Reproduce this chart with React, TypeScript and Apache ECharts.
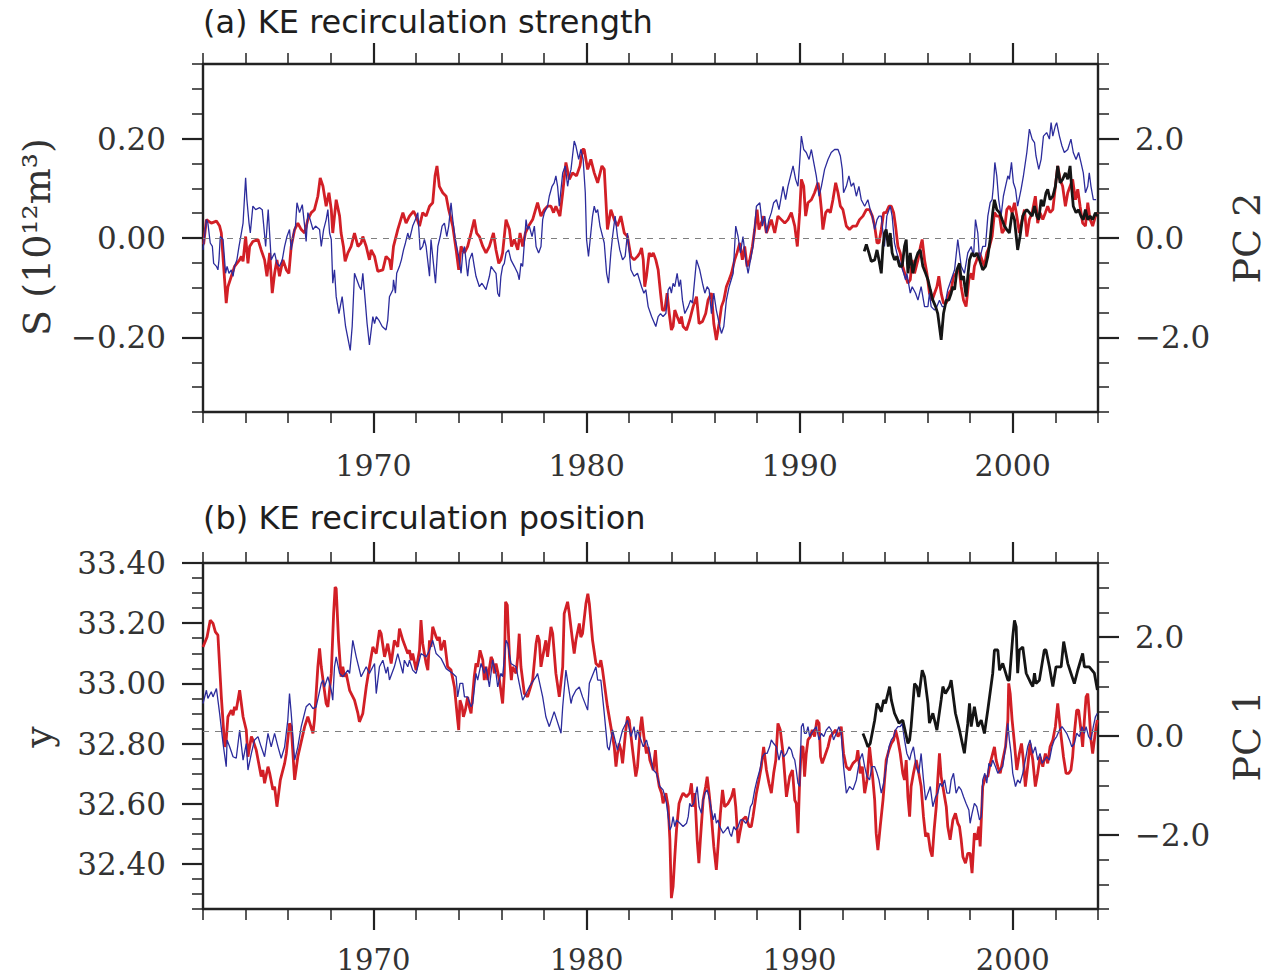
import React, { useEffect, useRef } from "react";
import * as echarts from "echarts";

// ---------- tick values ----------
const X_MAJOR = [1970, 1980, 1990, 2000];
const X_MINOR = [1962, 1964, 1966, 1968, 1970, 1972, 1974, 1976, 1978, 1980, 1982, 1984, 1986, 1988, 1990, 1992, 1994, 1996, 1998, 2000, 2002, 2004];
const S_MAJOR = [-0.2, 0, 0.2];
const S_MINOR = [-0.35, -0.3, -0.25, -0.2, -0.15, -0.1, -0.05, 0, 0.05, 0.1, 0.15, 0.2, 0.25, 0.3, 0.35];
const PC_MAJOR = [-2, 0, 2];
const PC_MINOR = [-3.5, -3, -2.5, -2, -1.5, -1, -0.5, 0, 0.5, 1, 1.5, 2, 2.5, 3, 3.5];
const Y_MAJOR = [32.4, 32.6, 32.8, 33.0, 33.2, 33.4];
const Y_MINOR = [32.25, 32.3, 32.35, 32.4, 32.45, 32.5, 32.55, 32.6, 32.65, 32.7, 32.75, 32.8, 32.85, 32.9, 32.95, 33.0, 33.05, 33.1, 33.15, 33.2, 33.25, 33.3, 33.35, 33.4];

// ---------- panel (a): recirculation strength S (1e12 m^3) ----------
const redA: number[][] = [
  [1962.03,-0.013],[1962.16,0.037],[1962.39,0.030],[1962.63,0.034],[1962.78,0.024],[1962.86,0.010],[1963.09,-0.131],[1963.17,-0.098],[1963.33,-0.077],[1963.48,-0.057],[1963.72,-0.044],[1963.80,-0.037],[1963.88,-0.047],[1964.00,0.003],[1964.11,-0.051],[1964.19,-0.017],[1964.34,-0.007],[1964.58,-0.003],[1964.73,-0.024],[1964.89,-0.044],[1965.00,-0.077],[1965.13,-0.030],[1965.25,-0.111],[1965.36,-0.071],[1965.47,-0.044],[1965.59,-0.077],[1965.75,-0.044],[1965.91,-0.064],[1966.03,-0.071],[1966.14,-0.017],[1966.30,0.017],[1966.45,0.030],[1966.61,0.017],[1966.77,0.010],[1966.92,0.037],[1967.08,0.051],[1967.23,0.057],[1967.39,0.084],[1967.50,0.121],[1967.63,0.104],[1967.78,0.064],[1967.91,0.091],[1968.02,0.057],[1968.09,0.010],[1968.25,0.077],[1968.41,0.044],[1968.48,0.010],[1968.59,-0.017],[1968.67,-0.047],[1968.80,-0.030],[1968.95,-0.017],[1969.11,0.010],[1969.27,-0.017],[1969.42,-0.010],[1969.50,0.003],[1969.66,-0.017],[1969.81,-0.044],[1969.89,-0.024],[1970.05,-0.037],[1970.20,-0.067],[1970.44,-0.064],[1970.59,-0.037],[1970.75,-0.044],[1970.83,-0.064],[1970.94,-0.017],[1971.14,0.017],[1971.38,0.051],[1971.53,0.030],[1971.69,0.044],[1971.88,0.054],[1972.00,0.044],[1972.16,0.024],[1972.31,0.051],[1972.47,0.044],[1972.63,0.064],[1972.78,0.071],[1972.89,0.125],[1972.98,0.145],[1973.09,0.104],[1973.25,0.091],[1973.41,0.084],[1973.53,0.057],[1973.72,0.024],[1973.88,-0.024],[1974.00,-0.064],[1974.11,-0.017],[1974.27,-0.030],[1974.42,-0.017],[1974.58,0.010],[1974.73,0.037],[1974.84,0.010],[1974.97,0.003],[1975.13,-0.017],[1975.28,-0.030],[1975.44,-0.017],[1975.63,0.010],[1975.75,-0.024],[1975.88,-0.051],[1975.98,-0.044],[1976.06,-0.030],[1976.22,0.037],[1976.38,0.017],[1976.48,-0.017],[1976.61,-0.003],[1976.77,-0.024],[1976.88,0.010],[1977.00,-0.017],[1977.13,0.010],[1977.28,0.024],[1977.47,0.037],[1977.70,0.071],[1977.86,0.044],[1978.02,0.057],[1978.17,0.064],[1978.33,0.064],[1978.45,0.051],[1978.56,0.064],[1978.75,0.044],[1978.88,0.091],[1979.03,0.152],[1979.19,0.118],[1979.34,0.131],[1979.53,0.125],[1979.69,0.145],[1979.81,0.178],[1979.89,0.178],[1980.05,0.138],[1980.20,0.158],[1980.36,0.131],[1980.52,0.111],[1980.72,0.145],[1980.83,0.138],[1980.98,0.017],[1981.14,0.057],[1981.30,0.037],[1981.45,0.024],[1981.61,0.044],[1981.77,0.010],[1981.92,0.003],[1982.08,-0.037],[1982.23,-0.044],[1982.39,-0.037],
  [1982.50,-0.030],[1982.58,-0.020],[1982.66,-0.044],[1982.73,-0.098],[1982.81,-0.077],[1982.94,-0.030],[1983.05,-0.037],[1983.13,-0.030],[1983.25,-0.044],[1983.36,-0.064],[1983.47,-0.111],[1983.56,-0.145],[1983.67,-0.145],[1983.78,-0.111],[1983.88,-0.152],[1983.98,-0.185],[1984.06,-0.178],[1984.14,-0.145],[1984.25,-0.158],[1984.38,-0.172],[1984.45,-0.158],[1984.53,-0.178],[1984.69,-0.185],[1984.84,-0.165],[1985.00,-0.138],[1985.16,-0.118],[1985.28,-0.172],[1985.44,-0.168],[1985.59,-0.152],[1985.70,-0.125],[1985.86,-0.111],[1985.97,-0.172],[1986.09,-0.205],[1986.22,-0.172],[1986.33,-0.138],[1986.44,-0.125],[1986.56,-0.098],[1986.69,-0.084],[1986.80,-0.071],[1986.95,-0.044],[1987.06,-0.030],[1987.19,-0.010],[1987.31,-0.044],[1987.42,-0.017],[1987.53,-0.057],[1987.66,-0.044],[1987.78,-0.017],[1987.89,0.017],[1988.00,0.057],[1988.09,0.017],[1988.20,0.030],[1988.31,0.044],[1988.44,0.010],[1988.56,0.024],[1988.67,0.037],[1988.83,0.010],[1988.98,0.044],[1989.14,0.037],[1989.30,0.030],[1989.45,0.037],[1989.61,0.051],[1989.77,0.024],[1989.89,-0.017],[1990.00,0.051],[1990.08,0.118],[1990.19,0.104],[1990.28,0.044],[1990.39,0.071],[1990.55,0.077],[1990.70,0.091],[1990.86,0.111],[1990.94,0.091],[1991.02,0.057],[1991.09,0.017],[1991.22,0.051],[1991.33,0.057],[1991.44,0.051],[1991.56,0.077],[1991.69,0.111],[1991.80,0.091],[1991.91,0.064],[1992.03,0.057],[1992.19,0.024],[1992.34,0.017],[1992.50,0.024],[1992.66,0.024],[1992.81,0.037],[1992.97,0.044],[1993.13,0.057],[1993.28,0.057],[1993.41,0.044],[1993.52,0.024],[1993.63,-0.010],[1993.72,-0.010],[1993.83,0.017],[1993.94,0.051],[1994.06,0.051],[1994.19,0.064],[1994.30,0.064],[1994.41,0.051],[1994.50,0.024],[1994.61,-0.017],[1994.72,-0.030],[1994.84,-0.057],[1994.97,-0.077],[1995.08,-0.091],[1995.19,-0.084],[1995.28,-0.044],[1995.39,-0.071],[1995.55,-0.044],[1995.67,-0.017],[1995.75,-0.003],[1995.86,-0.044],[1995.97,-0.071],[1996.09,-0.111],[1996.22,-0.125],[1996.33,-0.111],[1996.44,-0.098],[1996.53,-0.077],[1996.64,-0.111],[1996.75,-0.131],[1996.88,-0.131],[1997.00,-0.111],[1997.11,-0.104],[1997.22,-0.077],[1997.34,-0.071],[1997.47,-0.057],[1997.58,-0.098],[1997.69,-0.125],[1997.81,-0.138],[1997.94,-0.084],[1998.05,-0.071],[1998.13,-0.084],[1998.20,-0.057],[1998.31,-0.044],[1998.44,-0.030],[1998.56,-0.044],[1998.67,-0.057],[1998.78,-0.030],[1998.91,-0.017],[1999.03,0.003],[1999.14,0.051],[1999.25,0.044],[1999.38,0.044],[1999.50,0.010],[1999.61,0.017],[1999.72,0.057],[1999.84,0.064],[1999.97,0.051],[2000.08,0.071],[2000.19,0.044],[2000.31,0.010],[2000.44,0.037],[2000.55,0.057],[2000.66,0.003],[2000.78,0.037],[2000.91,0.051],[2001.06,0.084],[2001.17,0.030],[2001.28,0.051],[2001.41,0.037],[2001.53,0.051],[2001.64,0.064],[2001.75,0.051],[2001.88,0.057],[2002.00,0.104],[2002.11,0.145],[2002.22,0.118],[2002.34,0.104],[2002.47,0.064],[2002.58,0.091],[2002.69,0.104],[2002.81,0.118],[2002.94,0.077],[2003.05,0.098],[2003.16,0.064],[2003.28,0.030],[2003.41,0.024],[2003.52,0.071],[2003.63,0.037],[2003.75,0.024],[2003.88,0.044],[2003.97,0.051]
];

const blueA: number[][] = [
  [1962.00,-0.024],[1962.16,0.037],[1962.23,0.030],[1962.34,-0.010],[1962.44,-0.017],[1962.50,-0.051],[1962.63,-0.057],[1962.70,-0.064],[1962.75,-0.044],[1962.81,0.003],[1962.94,-0.003],[1963.06,-0.071],[1963.13,-0.057],[1963.22,-0.071],[1963.33,-0.064],[1963.41,-0.077],[1963.48,-0.057],[1963.59,-0.044],[1963.69,-0.017],[1963.80,0.010],[1963.88,0.030],[1964.00,0.121],[1964.06,0.077],[1964.16,0.030],[1964.22,0.010],[1964.34,0.064],[1964.47,0.057],[1964.66,0.061],[1964.78,0.057],[1964.94,-0.017],[1965.06,0.057],[1965.20,-0.044],[1965.36,-0.030],[1965.47,-0.051],[1965.59,-0.057],[1965.72,-0.044],[1965.83,-0.017],[1965.94,0.003],[1966.06,0.017],[1966.14,-0.024],[1966.25,0.010],[1966.34,0.024],[1966.41,0.071],[1966.53,0.051],[1966.66,0.067],[1966.77,0.024],[1966.84,-0.007],[1966.92,0.051],[1967.03,0.037],[1967.16,0.017],[1967.28,0.024],[1967.47,0.017],[1967.55,-0.017],[1967.66,0.017],[1967.78,0.037],[1967.86,0.057],[1967.94,0.010],[1968.02,-0.003],[1968.09,-0.091],[1968.17,-0.064],[1968.25,-0.118],[1968.38,-0.152],[1968.53,-0.118],[1968.69,-0.178],[1968.91,-0.226],[1969.00,-0.178],[1969.11,-0.071],[1969.22,-0.084],[1969.34,-0.098],[1969.42,-0.104],[1969.50,-0.071],[1969.61,-0.125],[1969.70,-0.172],[1969.81,-0.215],[1969.97,-0.158],[1970.05,-0.172],[1970.13,-0.158],[1970.25,-0.165],[1970.41,-0.178],[1970.59,-0.185],[1970.67,-0.165],[1970.75,-0.118],[1970.91,-0.104],[1970.94,-0.084],[1971.03,-0.111],[1971.09,-0.071],[1971.22,-0.057],[1971.31,-0.044],[1971.41,-0.024],[1971.50,-0.010],[1971.61,0.010],[1971.69,-0.003],[1971.84,0.024],[1971.97,0.037],[1972.08,0.051],[1972.13,0.017],[1972.19,-0.024],[1972.31,-0.017],[1972.39,-0.003],[1972.47,-0.017],[1972.63,-0.077],[1972.70,-0.003],[1972.78,-0.037],[1972.91,-0.091],[1973.02,-0.017],[1973.13,0.003],[1973.22,0.024],[1973.33,0.030],[1973.44,0.003],[1973.53,0.024],[1973.64,0.071],[1973.72,0.037],[1973.84,-0.003],[1974.00,-0.037],[1974.11,-0.071],[1974.19,-0.030],[1974.27,-0.017],[1974.42,-0.077],[1974.50,-0.044],[1974.63,-0.030],[1974.73,-0.057],[1974.81,-0.077],[1974.97,-0.098],[1975.09,-0.091],[1975.28,-0.104],[1975.44,-0.077],[1975.52,-0.057],[1975.63,-0.064],[1975.75,-0.071],[1975.83,-0.111],[1975.91,-0.118],[1975.98,-0.077],[1976.06,-0.057],[1976.14,-0.051],[1976.22,-0.030],[1976.34,-0.024],[1976.45,-0.044],[1976.61,-0.057],[1976.77,-0.071],[1976.84,-0.084],[1976.92,-0.051],[1977.00,-0.057],[1977.08,-0.010],[1977.16,0.037],[1977.23,0.017],[1977.31,0.024],[1977.44,0.003],[1977.55,0.024],[1977.63,-0.017],[1977.75,-0.030],[1977.86,-0.017],[1977.94,0.037],[1978.02,0.051],[1978.09,0.057],[1978.17,0.064],[1978.25,0.084],[1978.38,0.104],[1978.48,0.111],[1978.56,0.125],[1978.64,0.104],[1978.72,0.064],[1978.88,0.131],[1979.00,0.145],[1979.11,0.104],[1979.19,0.125],[1979.27,0.138],[1979.34,0.165],[1979.42,0.195],[1979.50,0.185],[1979.63,0.158],[1979.73,0.178],[1979.84,0.158],[1979.94,0.091],[1980.00,-0.003],[1980.09,-0.037],[1980.20,0.010],[1980.28,0.044],[1980.36,0.064],[1980.44,0.051],[1980.52,0.057],[1980.63,0.024],[1980.83,-0.010],[1980.94,-0.071],[1981.03,-0.091],[1981.14,-0.030],[1981.22,0.003],[1981.34,0.044],[1981.45,0.003],[1981.56,-0.024],[1981.69,-0.044],[1981.81,-0.037],[1981.92,0.010],[1982.08,-0.064],[1982.23,-0.077],[1982.39,-0.071],
  [1982.58,-0.098],[1982.69,-0.111],[1982.78,-0.104],[1982.89,-0.138],[1983.05,-0.158],[1983.25,-0.178],[1983.36,-0.158],[1983.47,-0.152],[1983.59,-0.158],[1983.72,-0.152],[1983.83,-0.104],[1983.91,-0.098],[1983.98,-0.111],[1984.06,-0.091],[1984.14,-0.098],[1984.25,-0.071],[1984.34,-0.098],[1984.41,-0.084],[1984.50,-0.125],[1984.61,-0.152],[1984.77,-0.138],[1984.88,-0.125],[1984.97,-0.131],[1985.16,-0.044],[1985.31,-0.064],[1985.44,-0.091],[1985.55,-0.111],[1985.66,-0.098],[1985.75,-0.104],[1985.86,-0.152],[1985.97,-0.111],[1986.09,-0.145],[1986.25,-0.178],[1986.33,-0.192],[1986.44,-0.178],[1986.56,-0.125],[1986.69,-0.098],[1986.88,-0.071],[1987.00,0.024],[1987.11,0.003],[1987.22,-0.030],[1987.34,0.003],[1987.47,-0.044],[1987.58,-0.071],[1987.69,-0.044],[1987.81,-0.017],[1987.97,0.064],[1988.13,0.071],[1988.25,0.024],[1988.36,0.044],[1988.44,0.010],[1988.56,0.037],[1988.67,0.051],[1988.78,0.071],[1988.91,0.077],[1989.03,0.057],[1989.22,0.104],[1989.34,0.077],[1989.45,0.104],[1989.69,0.145],[1989.81,0.118],[1989.92,0.104],[1990.00,0.152],[1990.08,0.205],[1990.19,0.178],[1990.31,0.172],[1990.44,0.158],[1990.55,0.178],[1990.66,0.152],[1990.78,0.125],[1990.91,0.084],[1991.02,0.104],[1991.17,0.138],[1991.33,0.158],[1991.48,0.172],[1991.64,0.178],[1991.80,0.178],[1991.91,0.165],[1992.00,0.138],[1992.06,0.091],[1992.19,0.104],[1992.31,0.125],[1992.42,0.104],[1992.53,0.111],[1992.66,0.084],[1992.78,0.104],[1992.89,0.077],[1993.05,0.064],[1993.20,0.077],[1993.31,0.057],[1993.41,0.044],[1993.52,0.017],[1993.63,0.037],[1993.72,0.044],[1993.83,0.044],[1993.91,0.010],[1993.98,-0.017],[1994.09,0.044],[1994.25,0.064],[1994.34,0.044],[1994.45,-0.010],[1994.56,-0.030],[1994.66,-0.044],[1994.77,-0.057],[1994.88,-0.071],[1994.97,-0.084],[1995.03,-0.071],[1995.19,-0.111],[1995.28,-0.098],[1995.44,-0.111],[1995.55,-0.125],[1995.70,-0.098],[1995.86,-0.138],[1996.02,-0.138],[1996.09,-0.111],[1996.17,-0.138],[1996.33,-0.145],[1996.44,-0.138],[1996.56,-0.125],[1996.69,-0.138],[1996.80,-0.138],[1996.95,-0.104],[1997.11,-0.084],[1997.27,-0.064],[1997.42,-0.003],[1997.58,-0.057],[1997.73,-0.071],[1997.89,-0.030],[1998.05,-0.017],[1998.16,-0.037],[1998.25,0.037],[1998.36,0.010],[1998.44,-0.044],[1998.59,-0.017],[1998.72,-0.017],[1998.83,0.044],[1998.94,0.071],[1999.03,0.077],[1999.09,0.104],[1999.16,0.152],[1999.25,0.125],[1999.34,0.077],[1999.45,0.044],[1999.56,0.084],[1999.66,0.104],[1999.77,0.125],[1999.84,0.118],[1999.94,0.152],[2000.03,0.111],[2000.13,0.098],[2000.23,0.064],[2000.39,0.098],[2000.50,0.125],[2000.66,0.172],[2000.78,0.219],[2000.91,0.199],[2001.02,0.192],[2001.09,0.165],[2001.22,0.138],[2001.33,0.158],[2001.44,0.205],[2001.59,0.212],[2001.72,0.199],[2001.80,0.232],[2001.88,0.205],[2002.00,0.226],[2002.06,0.232],[2002.19,0.205],[2002.31,0.185],[2002.42,0.172],[2002.58,0.178],[2002.73,0.199],[2002.84,0.172],[2002.97,0.158],[2003.09,0.172],[2003.20,0.152],[2003.31,0.131],[2003.41,0.091],[2003.52,0.104],[2003.59,0.131],[2003.67,0.104],[2003.78,0.077],[2003.91,0.077]
];

// black: PC 2 (right axis)
const blackA: number[][] = [
  [1993.03,-0.27],[1993.13,-0.13],[1993.25,-0.30],[1993.36,-0.47],[1993.52,-0.44],[1993.63,-0.24],[1993.72,-0.44],[1993.83,-0.71],[1993.91,-0.17],[1993.98,0.10],[1994.06,0.17],[1994.16,-0.17],[1994.25,0.10],[1994.34,-0.30],[1994.45,-0.44],[1994.56,-0.37],[1994.69,-0.57],[1994.81,-0.57],[1994.92,-0.17],[1995.00,-0.03],[1995.08,-0.71],[1995.19,-0.30],[1995.31,-0.71],[1995.44,-0.44],[1995.55,-0.30],[1995.66,-0.24],[1995.78,-0.57],[1995.91,-0.71],[1996.02,-0.84],[1996.13,-1.04],[1996.25,-1.25],[1996.38,-1.38],[1996.48,-1.52],[1996.64,-2.05],[1996.75,-1.52],[1996.88,-1.25],[1997.00,-1.25],[1997.11,-1.11],[1997.19,-0.98],[1997.27,-1.04],[1997.38,-0.64],[1997.50,-0.51],[1997.58,-0.84],[1997.69,-0.77],[1997.81,-1.18],[1997.89,-0.77],[1997.97,-0.44],[1998.09,-0.30],[1998.20,-0.37],[1998.31,-0.30],[1998.44,-0.44],[1998.59,-0.64],[1998.72,-0.57],[1998.83,-0.37],[1998.94,-0.03],[1999.06,0.51],[1999.14,0.77],[1999.25,0.57],[1999.38,0.51],[1999.50,0.37],[1999.61,0.24],[1999.72,0.17],[1999.84,0.10],[1999.97,0.51],[2000.08,0.37],[2000.23,-0.24],[2000.34,0.03],[2000.47,0.44],[2000.55,0.51],[2000.66,0.57],[2000.78,0.51],[2000.91,0.44],[2001.02,0.64],[2001.13,0.44],[2001.22,0.37],[2001.33,0.77],[2001.44,0.64],[2001.56,0.91],[2001.64,0.98],[2001.75,0.77],[2001.88,0.84],[2002.00,1.04],[2002.11,1.45],[2002.22,1.11],[2002.34,1.18],[2002.47,1.31],[2002.58,1.18],[2002.69,1.45],[2002.77,0.98],[2002.84,0.64],[2002.97,0.51],[2003.09,0.57],[2003.20,0.44],[2003.31,0.37],[2003.41,0.57],[2003.52,0.37],[2003.63,0.44],[2003.75,0.37],[2003.88,0.51],[2003.97,0.44]
];

// ---------- panel (b): recirculation position y (deg N) ----------
const redB: number[][] = [
  [1962.00,33.121],[1962.19,33.154],[1962.34,33.210],[1962.47,33.199],[1962.58,33.171],[1962.70,33.160],[1962.86,32.955],[1963.02,32.789],[1963.09,32.812],[1963.17,32.889],[1963.33,32.911],[1963.41,32.894],[1963.48,32.922],[1963.56,32.911],[1963.72,32.977],[1963.88,32.889],[1964.03,32.845],[1964.11,32.756],[1964.27,32.823],[1964.34,32.812],[1964.50,32.778],[1964.73,32.690],[1964.81,32.712],[1964.89,32.668],[1965.05,32.723],[1965.13,32.701],[1965.28,32.646],[1965.36,32.657],[1965.47,32.590],[1965.63,32.679],[1965.83,32.734],[1965.91,32.767],[1966.06,32.867],[1966.14,32.856],[1966.30,32.679],[1966.45,32.756],[1966.77,32.856],[1966.92,32.889],[1967.16,32.834],[1967.23,32.878],[1967.39,33.055],[1967.47,33.116],[1967.55,33.055],[1967.78,32.933],[1967.86,32.922],[1968.02,33.033],[1968.13,33.232],[1968.20,33.320],[1968.25,33.315],[1968.36,33.143],[1968.48,33.022],[1968.56,33.055],[1968.64,33.022],[1968.72,33.033],[1968.88,32.977],[1969.11,32.944],[1969.27,32.900],[1969.34,32.872],[1969.50,32.900],[1969.66,32.988],[1969.81,33.055],[1969.97,33.121],[1970.13,33.099],[1970.28,33.177],[1970.36,33.165],[1970.52,33.088],[1970.67,33.132],[1970.83,33.066],[1970.98,33.143],[1971.14,33.121],[1971.22,33.182],[1971.38,33.143],[1971.61,33.099],[1971.69,33.110],[1971.77,33.077],[1971.84,33.099],[1972.00,33.044],[1972.16,33.110],[1972.23,33.210],[1972.31,33.132],[1972.47,33.066],[1972.55,33.044],[1972.63,33.143],[1972.70,33.121],[1972.78,33.188],[1972.94,33.154],[1973.02,33.143],[1973.09,33.154],[1973.17,33.110],[1973.33,33.143],[1973.48,33.055],[1973.64,33.044],[1973.80,32.988],[1973.95,32.878],[1974.00,32.845],[1974.06,32.944],[1974.16,32.922],[1974.22,32.889],[1974.31,32.911],[1974.42,32.955],[1974.50,32.922],[1974.58,32.900],[1974.73,33.022],[1974.81,33.066],[1974.89,33.055],[1975.00,33.110],[1975.13,33.077],[1975.20,33.011],[1975.28,33.055],[1975.36,33.011],[1975.52,33.088],[1975.59,33.077],[1975.67,33.033],[1975.75,33.066],[1975.91,33.011],[1976.06,32.933],[1976.14,33.033],[1976.20,33.271],[1976.28,33.260],[1976.38,33.088],[1976.47,33.011],[1976.53,33.055],[1976.69,33.033],[1976.77,33.088],[1976.84,33.165],[1976.92,33.055],[1977.08,32.966],[1977.23,32.955],[1977.47,33.011],[1977.63,33.132],[1977.70,33.160],[1977.78,33.143],[1977.86,33.055],[1977.94,33.088],[1978.09,33.143],[1978.17,33.088],[1978.33,33.188],[1978.41,33.165],[1978.56,33.033],[1978.72,32.955],[1978.88,33.055],[1978.95,33.232],[1979.11,33.271],[1979.19,33.232],[1979.34,33.143],[1979.42,33.099],[1979.50,33.143],[1979.66,33.199],[1979.73,33.154],[1979.81,33.165],[1979.97,33.265],[1980.06,33.298],[1980.13,33.265],[1980.28,33.143],[1980.44,33.066],[1980.59,33.055],[1980.67,33.077],[1980.75,33.044],[1980.98,32.922],[1981.14,32.856],[1981.30,32.789],[1981.38,32.723],[1981.45,32.767],[1981.53,32.800],[1981.61,32.778],[1981.69,32.734],[1981.84,32.845],[1981.92,32.889],[1982.00,32.878],[1982.16,32.778],[1982.31,32.690],[1982.39,32.723],
  [1982.53,32.856],[1982.59,32.889],[1982.69,32.823],[1982.81,32.767],[1982.89,32.789],[1982.97,32.745],[1983.13,32.712],[1983.23,32.778],[1983.31,32.701],[1983.41,32.657],[1983.52,32.635],[1983.59,32.601],[1983.72,32.635],[1983.83,32.590],[1983.91,32.480],[1983.98,32.286],[1984.06,32.325],[1984.14,32.424],[1984.22,32.513],[1984.34,32.601],[1984.45,32.623],[1984.53,32.635],[1984.69,32.623],[1984.84,32.635],[1984.92,32.668],[1985.00,32.590],[1985.08,32.635],[1985.19,32.480],[1985.27,32.402],[1985.34,32.480],[1985.47,32.612],[1985.59,32.657],[1985.66,32.690],[1985.75,32.635],[1985.86,32.557],[1985.97,32.458],[1986.09,32.380],[1986.19,32.480],[1986.28,32.568],[1986.38,32.646],[1986.48,32.590],[1986.64,32.601],[1986.80,32.623],[1986.91,32.651],[1987.00,32.590],[1987.11,32.469],[1987.19,32.502],[1987.31,32.546],[1987.47,32.557],[1987.63,32.524],[1987.73,32.524],[1987.81,32.557],[1987.97,32.635],[1988.09,32.679],[1988.20,32.723],[1988.31,32.789],[1988.44,32.712],[1988.56,32.668],[1988.67,32.635],[1988.78,32.701],[1988.88,32.745],[1988.98,32.867],[1989.09,32.845],[1989.22,32.767],[1989.38,32.623],[1989.53,32.690],[1989.66,32.712],[1989.77,32.612],[1989.84,32.601],[1989.92,32.502],[1990.00,32.679],[1990.08,32.789],[1990.16,32.789],[1990.23,32.690],[1990.31,32.767],[1990.39,32.812],[1990.50,32.823],[1990.59,32.845],[1990.70,32.823],[1990.81,32.878],[1990.91,32.867],[1990.98,32.756],[1991.06,32.734],[1991.17,32.756],[1991.33,32.789],[1991.44,32.823],[1991.56,32.834],[1991.69,32.845],[1991.80,32.823],[1991.88,32.834],[1991.95,32.856],[1992.06,32.767],[1992.19,32.723],[1992.34,32.712],[1992.50,32.734],[1992.66,32.745],[1992.73,32.778],[1992.84,32.701],[1992.94,32.723],[1993.05,32.635],[1993.16,32.679],[1993.28,32.789],[1993.41,32.701],[1993.52,32.612],[1993.59,32.502],[1993.67,32.446],[1993.78,32.524],[1993.91,32.612],[1994.06,32.745],[1994.19,32.778],[1994.30,32.800],[1994.41,32.812],[1994.50,32.845],[1994.61,32.812],[1994.72,32.767],[1994.84,32.701],[1994.92,32.679],[1995.00,32.745],[1995.08,32.623],[1995.16,32.557],[1995.23,32.657],[1995.34,32.701],[1995.47,32.745],[1995.59,32.701],[1995.70,32.657],[1995.81,32.557],[1995.91,32.491],[1996.02,32.502],[1996.13,32.446],[1996.22,32.424],[1996.31,32.513],[1996.41,32.590],[1996.48,32.679],[1996.56,32.767],[1996.64,32.690],[1996.72,32.657],[1996.80,32.623],[1996.88,32.590],[1996.95,32.524],[1997.06,32.480],[1997.19,32.546],[1997.31,32.568],[1997.42,32.535],[1997.50,32.524],[1997.58,32.480],[1997.66,32.424],[1997.78,32.402],[1997.89,32.435],[1998.00,32.435],[1998.09,32.369],[1998.20,32.502],[1998.31,32.480],[1998.41,32.524],[1998.47,32.458],[1998.59,32.657],[1998.72,32.690],[1998.83,32.690],[1998.94,32.734],[1999.06,32.767],[1999.14,32.789],[1999.22,32.745],[1999.30,32.723],[1999.41,32.701],[1999.53,32.745],[1999.66,32.789],[1999.77,32.878],[1999.81,33.000],[1999.88,32.966],[1999.97,32.878],[2000.08,32.800],[2000.19,32.712],[2000.31,32.767],[2000.41,32.800],[2000.50,32.745],[2000.59,32.657],[2000.70,32.723],[2000.81,32.800],[2000.94,32.745],[2001.06,32.657],[2001.17,32.701],[2001.28,32.756],[2001.41,32.723],[2001.53,32.767],[2001.64,32.734],[2001.75,32.789],[2001.88,32.812],[2002.00,32.856],[2002.11,32.933],[2002.19,32.878],[2002.27,32.823],[2002.38,32.756],[2002.50,32.701],[2002.63,32.701],[2002.73,32.712],[2002.81,32.756],[2002.89,32.834],[2003.00,32.911],[2003.09,32.911],[2003.20,32.845],[2003.28,32.789],[2003.36,32.878],[2003.44,32.955],[2003.52,32.966],[2003.59,32.900],[2003.67,32.812],[2003.75,32.767],[2003.83,32.812],[2003.91,32.856],[2003.97,32.878]
];

const blueB: number[][] = [
  [1962.00,32.933],[1962.16,32.977],[1962.23,32.950],[1962.39,32.972],[1962.47,32.955],[1962.63,32.983],[1962.78,32.900],[1962.94,32.800],[1963.09,32.723],[1963.13,32.812],[1963.25,32.789],[1963.41,32.756],[1963.56,32.751],[1963.72,32.845],[1963.88,32.745],[1964.03,32.800],[1964.11,32.712],[1964.27,32.767],[1964.42,32.812],[1964.58,32.823],[1964.73,32.789],[1964.89,32.756],[1965.05,32.834],[1965.20,32.789],[1965.36,32.834],[1965.52,32.789],[1965.67,32.751],[1965.83,32.789],[1965.98,32.878],[1966.06,32.966],[1966.14,32.900],[1966.30,32.745],[1966.45,32.789],[1966.61,32.856],[1966.84,32.922],[1967.00,32.933],[1967.16,32.916],[1967.31,32.922],[1967.55,33.000],[1967.63,33.011],[1967.70,32.988],[1967.86,33.022],[1968.02,32.977],[1968.09,32.944],[1968.17,33.055],[1968.25,33.088],[1968.41,33.033],[1968.56,33.022],[1968.80,33.044],[1968.88,33.033],[1969.03,33.143],[1969.19,33.088],[1969.42,33.022],[1969.66,33.055],[1969.81,33.033],[1970.05,33.066],[1970.13,32.966],[1970.28,33.055],[1970.44,33.077],[1970.59,33.033],[1970.67,33.055],[1970.75,33.011],[1970.98,33.055],[1971.14,33.099],[1971.38,33.033],[1971.45,33.077],[1971.61,33.055],[1971.69,33.077],[1971.84,33.044],[1972.00,33.033],[1972.23,33.099],[1972.47,33.088],[1972.63,33.110],[1972.78,33.143],[1972.94,33.099],[1973.17,33.083],[1973.41,33.049],[1973.72,33.033],[1973.88,33.022],[1973.95,32.955],[1974.06,33.000],[1974.19,33.000],[1974.27,32.955],[1974.42,32.955],[1974.58,32.922],[1974.66,32.933],[1974.81,33.033],[1974.89,33.011],[1975.05,33.066],[1975.20,33.033],[1975.28,33.055],[1975.44,32.988],[1975.59,33.077],[1975.75,33.033],[1975.83,32.988],[1975.98,33.033],[1976.06,33.022],[1976.22,33.143],[1976.30,33.132],[1976.45,33.066],[1976.69,33.055],[1976.84,33.000],[1977.00,32.944],[1977.16,32.966],[1977.31,32.988],[1977.63,33.022],[1977.70,33.033],[1977.94,32.955],[1978.09,32.889],[1978.25,32.856],[1978.48,32.906],[1978.80,32.834],[1978.88,32.922],[1979.03,33.044],[1979.27,32.933],[1979.34,32.955],[1979.50,32.977],[1979.66,32.988],[1979.81,32.955],[1980.05,32.911],[1980.13,33.000],[1980.44,33.055],[1980.52,33.011],[1980.67,33.011],[1980.83,32.900],[1980.98,32.789],[1981.06,32.778],[1981.22,32.845],[1981.45,32.778],[1981.69,32.845],[1981.92,32.878],[1982.08,32.823],[1982.23,32.856],[1982.31,32.812],[1982.39,32.845],
  [1982.50,32.823],[1982.66,32.789],[1982.81,32.812],[1982.97,32.767],[1983.13,32.712],[1983.28,32.701],[1983.44,32.657],[1983.59,32.646],[1983.75,32.601],[1983.91,32.513],[1983.98,32.524],[1984.06,32.557],[1984.14,32.524],[1984.22,32.546],[1984.38,32.535],[1984.53,32.524],[1984.69,32.535],[1984.77,32.557],[1984.84,32.601],[1984.92,32.590],[1985.03,32.601],[1985.13,32.635],[1985.19,32.657],[1985.28,32.590],[1985.39,32.568],[1985.47,32.612],[1985.55,32.635],[1985.66,32.646],[1985.78,32.612],[1985.86,32.579],[1985.94,32.546],[1986.02,32.568],[1986.09,32.535],[1986.17,32.546],[1986.25,32.524],[1986.33,32.513],[1986.41,32.502],[1986.53,32.513],[1986.64,32.524],[1986.72,32.502],[1986.80,32.491],[1986.91,32.524],[1987.00,32.513],[1987.11,32.524],[1987.22,32.546],[1987.34,32.546],[1987.47,32.535],[1987.58,32.546],[1987.69,32.590],[1987.78,32.601],[1987.89,32.646],[1988.00,32.679],[1988.13,32.712],[1988.25,32.756],[1988.36,32.767],[1988.47,32.767],[1988.59,32.789],[1988.67,32.812],[1988.78,32.800],[1988.91,32.789],[1989.03,32.745],[1989.14,32.778],[1989.25,32.756],[1989.38,32.767],[1989.50,32.789],[1989.61,32.778],[1989.69,32.756],[1989.77,32.745],[1989.84,32.712],[1989.92,32.668],[1990.00,32.657],[1990.08,32.856],[1990.16,32.867],[1990.23,32.834],[1990.31,32.834],[1990.39,32.856],[1990.47,32.823],[1990.55,32.834],[1990.66,32.845],[1990.78,32.856],[1990.91,32.812],[1991.02,32.834],[1991.13,32.823],[1991.25,32.845],[1991.38,32.856],[1991.48,32.845],[1991.59,32.812],[1991.72,32.834],[1991.84,32.856],[1991.95,32.834],[1992.06,32.723],[1992.19,32.635],[1992.34,32.657],[1992.50,32.646],[1992.66,32.679],[1992.81,32.745],[1992.94,32.767],[1993.05,32.723],[1993.16,32.690],[1993.28,32.679],[1993.39,32.723],[1993.52,32.723],[1993.63,32.701],[1993.72,32.679],[1993.83,32.635],[1993.94,32.668],[1994.06,32.723],[1994.19,32.789],[1994.30,32.812],[1994.41,32.823],[1994.50,32.845],[1994.61,32.856],[1994.72,32.856],[1994.81,32.867],[1994.92,32.812],[1995.03,32.767],[1995.16,32.745],[1995.23,32.767],[1995.34,32.789],[1995.47,32.723],[1995.59,32.701],[1995.70,32.767],[1995.81,32.679],[1995.91,32.612],[1996.02,32.635],[1996.13,32.657],[1996.25,32.590],[1996.38,32.623],[1996.48,32.635],[1996.59,32.668],[1996.69,32.657],[1996.80,32.679],[1996.91,32.635],[1997.03,32.635],[1997.11,32.679],[1997.22,32.701],[1997.34,32.635],[1997.47,32.657],[1997.58,32.646],[1997.69,32.623],[1997.81,32.601],[1997.94,32.579],[1998.00,32.535],[1998.09,32.568],[1998.20,32.601],[1998.31,32.590],[1998.44,32.546],[1998.52,32.557],[1998.59,32.679],[1998.69,32.701],[1998.78,32.668],[1998.88,32.734],[1998.98,32.723],[1999.06,32.745],[1999.19,32.723],[1999.30,32.701],[1999.41,32.712],[1999.53,32.723],[1999.66,32.789],[1999.77,32.867],[1999.84,32.812],[1999.92,32.767],[2000.00,32.701],[2000.13,32.657],[2000.23,32.679],[2000.34,32.668],[2000.47,32.701],[2000.59,32.745],[2000.70,32.789],[2000.81,32.812],[2000.94,32.767],[2001.06,32.789],[2001.17,32.745],[2001.28,32.767],[2001.38,32.734],[2001.48,32.745],[2001.59,32.756],[2001.72,32.745],[2001.84,32.789],[2001.95,32.812],[2002.06,32.823],[2002.19,32.845],[2002.31,32.856],[2002.42,32.845],[2002.53,32.834],[2002.66,32.812],[2002.77,32.789],[2002.89,32.800],[2003.00,32.834],[2003.13,32.823],[2003.25,32.856],[2003.36,32.834],[2003.44,32.856],[2003.56,32.823],[2003.67,32.812],[2003.78,32.856],[2003.88,32.889],[2003.97,32.900]
];

// black: PC 1 (right axis)
const blackB: number[][] = [
  [1992.97,0.05],[1993.09,-0.08],[1993.20,-0.22],[1993.31,-0.15],[1993.52,0.32],[1993.63,0.66],[1993.72,0.59],[1993.83,0.49],[1993.94,0.73],[1994.03,0.66],[1994.22,1.00],[1994.30,0.73],[1994.45,0.46],[1994.66,0.26],[1994.84,0.32],[1995.08,-0.15],[1995.16,-0.08],[1995.23,0.19],[1995.39,1.06],[1995.50,1.00],[1995.59,0.79],[1995.75,1.33],[1995.86,1.20],[1996.02,0.66],[1996.09,0.26],[1996.25,0.46],[1996.44,0.12],[1996.64,0.73],[1996.72,1.00],[1996.84,0.86],[1997.03,1.00],[1997.11,1.13],[1997.31,0.46],[1997.50,0.12],[1997.73,-0.35],[1997.89,0.26],[1997.97,0.66],[1998.05,0.19],[1998.20,0.59],[1998.36,0.19],[1998.52,0.32],[1998.67,0.05],[1998.83,0.53],[1999.06,1.27],[1999.14,1.74],[1999.30,1.74],[1999.38,1.33],[1999.53,1.47],[1999.77,1.13],[1999.84,1.13],[2000.00,2.01],[2000.08,2.34],[2000.16,2.21],[2000.23,1.27],[2000.31,1.74],[2000.47,1.80],[2000.63,1.27],[2000.86,1.06],[2000.94,1.00],[2001.02,1.27],[2001.09,1.06],[2001.25,1.13],[2001.48,1.74],[2001.56,1.74],[2001.72,1.40],[2001.88,1.00],[2002.03,1.40],[2002.27,1.40],[2002.39,1.91],[2002.58,1.47],[2002.73,1.27],[2002.89,1.06],[2003.05,1.33],[2003.28,1.67],[2003.36,1.40],[2003.59,1.40],[2003.83,1.27],[2003.97,0.93]
];

const ZERO_A = 0;
const ZERO_B = 32.836;

const SERIF = "'DejaVu Serif', serif";
const SANS = "'DejaVu Sans', sans-serif";
const AXIS_COLOR = "#222";
const LABEL_COLOR = "#333";
const RED = "#d21f26";
const BLUE = "#2c2c9c";
const BLACK = "#151515";

const fmt = (d: number) => (v: number) => (v < -1e-9 ? "\u2212" : "") + Math.abs(v).toFixed(d);

function xAxesFor(gridIndex: number, labelMargin: number, labelSize: number) {
  const base = { type: "value", gridIndex, min: 1962, max: 2004, splitLine: { show: false } };
  const line = { show: true, onZero: false, lineStyle: { color: AXIS_COLOR, width: 2.4 } };
  const noLine = { show: false, onZero: false };
  const major = { show: true, customValues: X_MAJOR, length: 21, lineStyle: { color: AXIS_COLOR, width: 2.2 } };
  const minor = { show: true, customValues: X_MINOR, length: 11, lineStyle: { color: AXIS_COLOR, width: 1.5 } };
  return [
    { ...base, position: "bottom", axisLine: line, axisTick: major,
      axisLabel: { show: true, customValues: X_MAJOR, margin: labelMargin, fontFamily: SERIF, fontSize: labelSize, color: LABEL_COLOR, formatter: (v: number) => String(v) } },
    { ...base, position: "bottom", axisLine: noLine, axisTick: minor, axisLabel: { show: false } },
    { ...base, position: "top", axisLine: line, axisTick: major, axisLabel: { show: false } },
    { ...base, position: "top", axisLine: noLine, axisTick: minor, axisLabel: { show: false } },
  ];
}

function yPair(gridIndex: number, position: string, min: number, max: number, majorVals: number[], minorVals: number[], digits: number) {
  const base = { type: "value", gridIndex, position, min, max, splitLine: { show: false }, offset: 0 };
  return [
    { ...base, axisLine: { show: true, onZero: false, lineStyle: { color: AXIS_COLOR, width: 2.4 } },
      axisTick: { show: true, customValues: majorVals, length: 21, lineStyle: { color: AXIS_COLOR, width: 2.2 } },
      axisLabel: { show: true, customValues: majorVals, margin: 37, fontFamily: SERIF, fontSize: 31, color: LABEL_COLOR, formatter: fmt(digits) } },
    { ...base, axisLine: { show: false, onZero: false },
      axisTick: { show: true, customValues: minorVals, length: 11, lineStyle: { color: AXIS_COLOR, width: 1.5 } },
      axisLabel: { show: false } },
  ];
}

function lineSeries(name: string, data: number[][], xi: number, yi: number, color: string, width: number, z: number, zeroLine?: number) {
  const s: any = {
    name, type: "line", xAxisIndex: xi, yAxisIndex: yi, data, showSymbol: false, symbol: "none",
    lineStyle: { color, width }, itemStyle: { color }, z, silent: true,
  };
  if (zeroLine !== undefined) {
    s.markLine = {
      silent: true, symbol: ["none", "none"], label: { show: false },
      lineStyle: { color: "#808080", width: 1, type: [6, 6] },
      data: [{ yAxis: zeroLine }],
    };
  }
  return s;
}

export default function App() {
  const ref = useRef<HTMLDivElement>(null);
  useEffect(() => {
    if (!ref.current) return;
    const chart = echarts.init(ref.current, undefined, { renderer: "svg" });
    const nameStyle = (text: string, x: number, y: number) => ({
      type: "text", x, y, rotation: Math.PI / 2,
      style: { text, fontFamily: SERIF, fontSize: 38, fill: LABEL_COLOR, align: "center", verticalAlign: "middle" },
    });
    chart.setOption({
      animation: false,
      backgroundColor: "#ffffff",
      title: [
        { text: "(a) KE recirculation strength", left: 203, top: 6, padding: 0,
          textStyle: { fontFamily: SANS, fontSize: 32, fontWeight: "normal", color: "#1e1e1e" } },
        { text: "(b) KE recirculation position", left: 203, top: 502, padding: 0,
          textStyle: { fontFamily: SANS, fontSize: 32, fontWeight: "normal", color: "#1e1e1e" } },
      ],
      grid: [
        { left: 203, top: 64, width: 895, height: 348, outerBoundsMode: "none", containLabel: false },
        { left: 203, top: 563, width: 895, height: 346, outerBoundsMode: "none", containLabel: false },
      ],
      xAxis: [...xAxesFor(0, 38, 30), ...xAxesFor(1, 36, 29)],
      yAxis: [
        ...yPair(0, "left", -0.35, 0.35, S_MAJOR, S_MINOR, 2),
        ...yPair(0, "right", -3.5, 3.5, PC_MAJOR, PC_MINOR, 1),
        ...yPair(1, "left", 32.25, 33.4, Y_MAJOR, Y_MINOR, 2),
        ...yPair(1, "right", -3.5, 3.5, PC_MAJOR, PC_MINOR, 1),
      ],
      series: [
        lineSeries("S model (red)", redA, 0, 0, RED, 2.8, 3, ZERO_A),
        lineSeries("S (blue)", blueA, 0, 0, BLUE, 1.3, 4),
        lineSeries("PC 2", blackA, 0, 2, BLACK, 2.8, 5),
        lineSeries("y model (red)", redB, 4, 4, RED, 2.8, 3, ZERO_B),
        lineSeries("y (blue)", blueB, 4, 4, BLUE, 1.3, 4),
        lineSeries("PC 1", blackB, 4, 6, BLACK, 2.8, 5),
      ],
      graphic: [
        nameStyle("S (10\u00B9\u00B2m\u00B3)", 37, 237),
        nameStyle("PC 2", 1247, 238),
        nameStyle("y", 38, 737),
        nameStyle("PC 1", 1247, 736),
      ],
    });
    return () => chart.dispose();
  }, []);
  return <div ref={ref} style={{ position: "absolute", left: 0, top: 0, width: 1271, height: 977 }} />;
}
